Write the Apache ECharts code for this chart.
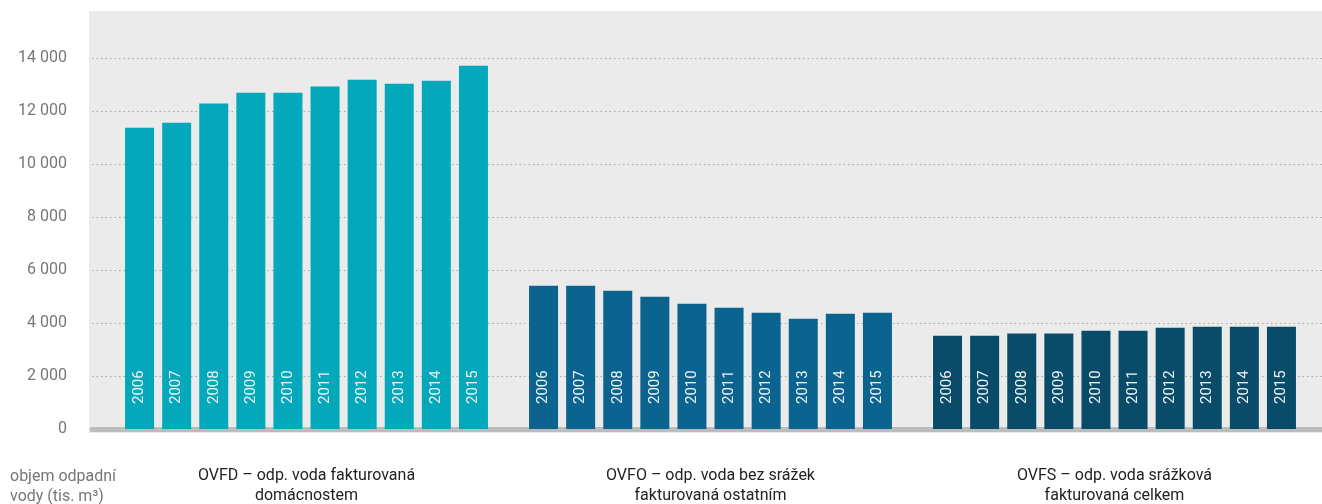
<!DOCTYPE html>
<html>
<head>
<meta charset="utf-8">
<script src="https://cdn.jsdelivr.net/npm/echarts@6/dist/echarts.min.js"></script>
<style>
html,body{margin:0;padding:0;background:#fff;}
#chart{width:1322px;height:504px;}
</style>
</head>
<body>
<div id="chart"></div>
<script>
var years = ['2006','2007','2008','2009','2010','2011','2012','2013','2014','2015'];
var ovfd = [11370, 11560, 12280, 12690, 12690, 12920, 13180, 13030, 13140, 13710];
var ovfo = [5410, 5410, 5220, 4990, 4730, 4580, 4390, 4160, 4350, 4390];
var ovfs = [3520, 3520, 3600, 3600, 3710, 3710, 3820, 3860, 3860, 3860];
var groupTitles = [
  'OVFD – odp. voda fakturovaná\ndomácnostem',
  'OVFO – odp. voda bez srážek\nfakturovaná ostatním',
  'OVFS – odp. voda srážková\nfakturovaná celkem'
];
var yAxisTitle = 'objem odpadní\nvody (tis. m³)';
var yMin = 0, yMax = 14000, yStep = 2000;

var FONT = 'Roboto, "Noto Sans", sans-serif';
var colors = ['#03a8bb', '#0a648f', '#084c6a'];
var seriesData = [ovfd, ovfo, ovfs];
var gridLefts = [121, 525, 929];
var gridW = 371;

function fmt(v){ return String(v).replace(/\B(?=(\d{3})+(?!\d))/g, ' '); }

var grids = [{left: 92, right: 0, top: 58, bottom: 75, outerBoundsMode: 'none', containLabel: false}];
var xAxes = [{
  gridIndex: 0, type: 'category', data: [''],
  offset: 2,
  axisLine: {show: true, lineStyle: {color: '#bcbcbc', width: 5}},
  axisTick: {show: false}, axisLabel: {show: false}, splitLine: {show: false}, z: 1
}];
var yAxes = [{
  gridIndex: 0, type: 'value', min: yMin, max: yMax, interval: yStep,
  axisLine: {show: false}, axisTick: {show: false},
  axisLabel: {color: '#777', fontSize: 16, fontFamily: FONT, margin: 25, formatter: fmt},
  splitLine: {show: true, lineStyle: {color: '#a8a8a8', type: [1.5, 3], width: 1}}
}];
var series = [];
for (var g = 0; g < 3; g++) {
  grids.push({left: gridLefts[g], width: gridW, top: 58, bottom: 75, outerBoundsMode: 'none', containLabel: false});
  xAxes.push({
    gridIndex: g + 1, type: 'category', data: years,
    axisLine: {show: false}, axisTick: {show: false}, axisLabel: {show: false},
    name: groupTitles[g], nameLocation: 'middle', nameGap: 37,
    nameTextStyle: {color: '#222', fontSize: 16, fontFamily: FONT, lineHeight: 20, align: 'center'}
  });
  yAxes.push({gridIndex: g + 1, type: 'value', min: yMin, max: yMax, interval: yStep, show: false, splitLine: {show: false}});
  series.push({
    type: 'bar', xAxisIndex: g + 1, yAxisIndex: g + 1,
    data: seriesData[g], barWidth: 29, z: 3,
    itemStyle: {color: colors[g]},
    label: {
      show: true, position: 'insideBottom', rotate: 90, distance: 25,
      align: 'left', verticalAlign: 'middle',
      formatter: function(p){ return p.name; },
      color: '#eef4f6', fontSize: 15, fontFamily: FONT
    }
  });
}

var chart = echarts.init(document.getElementById('chart'), null, {renderer: 'canvas'});
chart.setOption({
  animation: false,
  backgroundColor: '#fff',
  title: {
    text: yAxisTitle, left: 10, top: 467, padding: 0,
    textStyle: {color: '#777', fontSize: 16, fontWeight: 'normal', fontFamily: FONT, lineHeight: 20}
  },
  graphic: {elements: [{
    type: 'rect', z: -100, silent: true,
    shape: {x: 89, y: 11, width: 1233, height: 422},
    style: {fill: '#ebebeb'}
  }]},
  grid: grids, xAxis: xAxes, yAxis: yAxes, series: series
});
</script>
</body>
</html>
